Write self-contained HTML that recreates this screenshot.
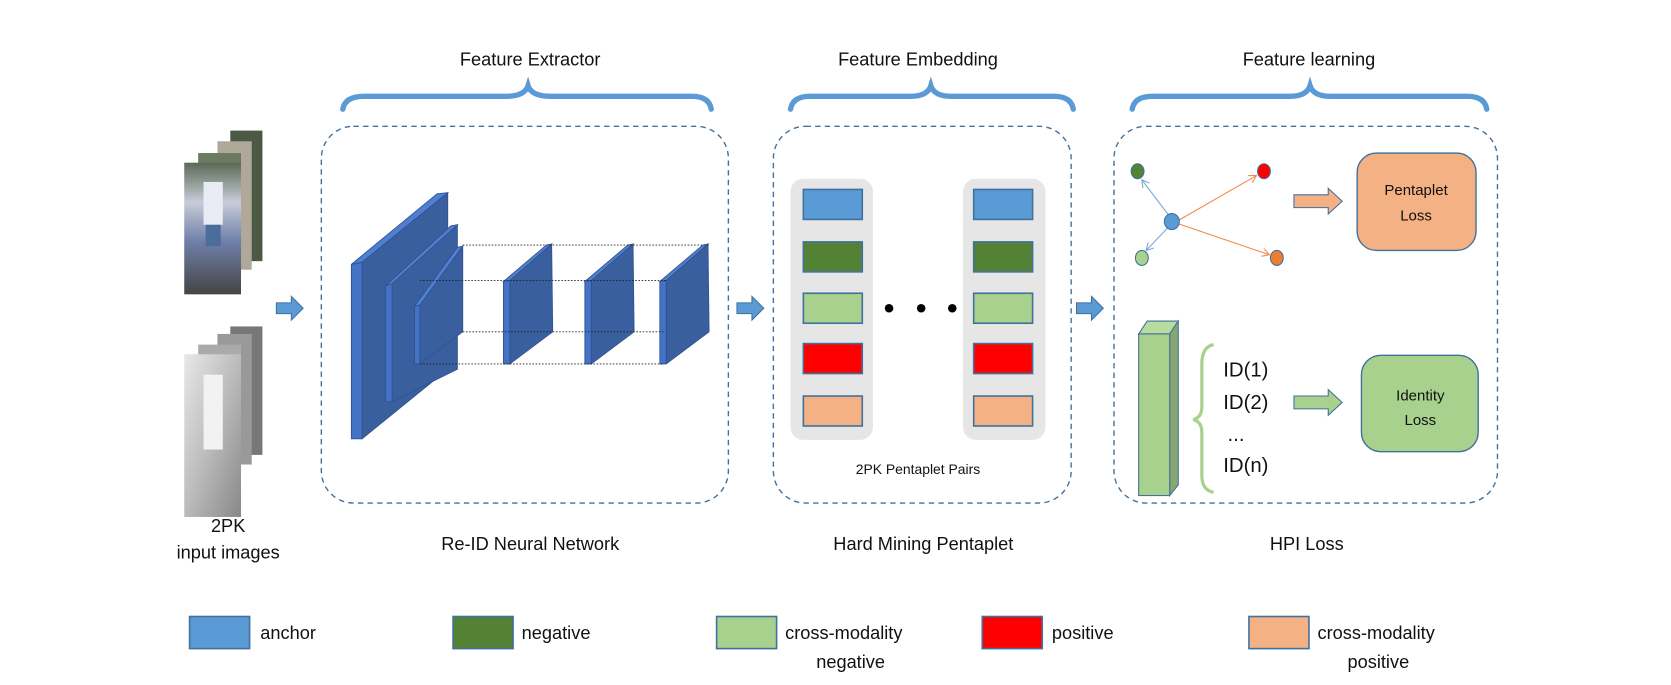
<!DOCTYPE html>
<html><head><meta charset="utf-8"><style>
html,body{margin:0;padding:0;background:#fff;}
svg{display:block;}
text{font-family:"Liberation Sans",sans-serif;fill:#111;}
</style></head><body>
<svg width="1671" height="685" viewBox="0 0 1560 640" preserveAspectRatio="none" xmlns="http://www.w3.org/2000/svg">
<defs>
<linearGradient id="col" x1="0" y1="0" x2="0" y2="1"><stop offset="0" stop-color="#5a6a55"/><stop offset="0.3" stop-color="#c8ccd8"/><stop offset="0.6" stop-color="#6f7fa8"/><stop offset="1" stop-color="#444"/></linearGradient>
<linearGradient id="gr" x1="0" y1="0" x2="1" y2="1"><stop offset="0" stop-color="#e8e8e8"/><stop offset="0.5" stop-color="#bbb"/><stop offset="1" stop-color="#888"/></linearGradient>
<marker id="ab" markerWidth="8" markerHeight="8" refX="7" refY="4" orient="auto" markerUnits="userSpaceOnUse"><path d="M0,0 L7,4 L0,8" fill="none" stroke="#7aa6d8" stroke-width="1"/></marker>
<marker id="ao" markerWidth="8" markerHeight="8" refX="7" refY="4" orient="auto" markerUnits="userSpaceOnUse"><path d="M0,0 L7,4 L0,8" fill="none" stroke="#f08a4b" stroke-width="1"/></marker>
</defs>
<g fill="none" stroke="#5b9bd5" stroke-width="5" stroke-linecap="round">
<path d="M320,102 Q322,90 340,90 L472,90 Q490,90 493,80 Q496,90 514,90 L646,90 Q662,90 664,102"/>
<path d="M738,102 Q740,90 756,90 L850,90 Q866,90 869,80 Q872,90 888,90 L984,90 Q1000,90 1002,102"/>
<path d="M1057,102 Q1059,90 1076,90 L1204,90 Q1220,90 1223,80 Q1226,90 1242,90 L1370,90 Q1386,90 1388,102"/>
</g>
<text x="495" y="61" font-size="17" text-anchor="middle">Feature Extractor</text>
<text x="857" y="61" font-size="17" text-anchor="middle">Feature Embedding</text>
<text x="1222" y="61" font-size="17" text-anchor="middle">Feature learning</text>
<g fill="none" stroke="#41719c" stroke-width="1.3" stroke-dasharray="5,4">
<rect x="300" y="118" width="380" height="352" rx="30"/>
<rect x="722" y="118" width="278" height="352" rx="30"/>
<rect x="1040" y="118" width="358" height="352" rx="30"/>
</g>
<rect x="215" y="122" width="30" height="122" fill="#4a5a44"/>
<rect x="203" y="132" width="32" height="120" fill="#b0a898"/>
<rect x="185" y="143" width="40" height="120" fill="#6c7a62"/>
<rect x="172" y="152" width="53" height="123" fill="url(#col)"/>
<rect x="190" y="170" width="18" height="40" fill="#e9ecf5"/>
<rect x="192" y="210" width="14" height="20" fill="#4c6c9c"/>
<rect x="215" y="305" width="30" height="120" fill="#777"/>
<rect x="203" y="312" width="32" height="122" fill="#999"/>
<rect x="185" y="322" width="40" height="125" fill="#aaa"/>
<rect x="172" y="331" width="53" height="152" fill="url(#gr)"/>
<rect x="190" y="350" width="18" height="70" fill="#f2f2f2"/>
<g fill="#5b9bd5" stroke="#41719c" stroke-width="1">
<path d="M258,283 L272,283 L272,277 L283,288 L272,299 L272,293 L258,293 Z"/>
<path d="M688,283 L702,283 L702,277 L713,288 L702,299 L702,293 L688,293 Z"/>
<path d="M1005,283 L1019,283 L1019,277 L1030,288 L1019,299 L1019,293 L1005,293 Z"/>
</g>
<g stroke="#2f528f" stroke-width="0.8">
<polygon points="338,245 418,180 418,345 338,410" fill="#3a5f9f"/>
<polygon points="328,247 338,245 338,410 328,410" fill="#4472c4"/>
<polygon points="328,247 408,181 418,180 338,245" fill="#4f7fd0"/>
<polygon points="366,265 427,210 427,345 366,375" fill="#3a5f9f"/>
<polygon points="360,267 366,265 366,375 360,375" fill="#4472c4"/>
<polygon points="360,267 421,211 427,210 366,265" fill="#4f7fd0"/>
<polygon points="392,285 432,230 432,310 392,340" fill="#3a5f9f"/>
<polygon points="387,286 392,285 392,340 387,340" fill="#4472c4"/>
<polygon points="387,286 427,231 432,230 392,285" fill="#4f7fd0"/>
<polygon points="476,262 515,228 516,310 476,340" fill="#3a5f9f"/>
<polygon points="470,263 476,262 476,340 470,340" fill="#4472c4"/>
<polygon points="470,263 510,229 515,228 476,262" fill="#4f7fd0"/>
<polygon points="552,262 591,228 592,310 552,340" fill="#3a5f9f"/>
<polygon points="546,263 552,262 552,340 546,340" fill="#4472c4"/>
<polygon points="546,263 586,229 591,228 552,262" fill="#4f7fd0"/>
<polygon points="622,262 661,228 662,310 622,340" fill="#3a5f9f"/>
<polygon points="616,263 622,262 622,340 616,340" fill="#4472c4"/>
<polygon points="616,263 656,229 661,228 622,262" fill="#4f7fd0"/>
</g>
<g stroke="#222" stroke-width="0.8" stroke-dasharray="1.5,1.5">
<line x1="432" y1="229" x2="662" y2="229"/>
<line x1="392" y1="262" x2="622" y2="262"/>
<line x1="432" y1="310" x2="620" y2="310"/>
<line x1="392" y1="340" x2="620" y2="340"/>
</g>
<rect x="738" y="167" width="77" height="244" rx="12" fill="#e6e6e6"/>
<rect x="899" y="167" width="77" height="244" rx="12" fill="#e6e6e6"/>
<g stroke="#41719c" stroke-width="1.5">
<rect x="750" y="177" width="55" height="28" fill="#5b9bd5"/>
<rect x="750" y="226" width="55" height="28" fill="#548235"/>
<rect x="750" y="274" width="55" height="28" fill="#a9d18e"/>
<rect x="750" y="321" width="55" height="28" fill="#ff0000"/>
<rect x="750" y="370" width="55" height="28" fill="#f4b183"/>
<rect x="909" y="177" width="55" height="28" fill="#5b9bd5"/>
<rect x="909" y="226" width="55" height="28" fill="#548235"/>
<rect x="909" y="274" width="55" height="28" fill="#a9d18e"/>
<rect x="909" y="321" width="55" height="28" fill="#ff0000"/>
<rect x="909" y="370" width="55" height="28" fill="#f4b183"/>
</g>
<circle cx="830" cy="288" r="4" fill="#000"/><circle cx="860" cy="288" r="4" fill="#000"/><circle cx="889" cy="288" r="4" fill="#000"/>
<text x="857" y="443" font-size="13" text-anchor="middle">2PK Pentaplet Pairs</text>
<g stroke-width="1" fill="none">
<line x1="1091" y1="201" x2="1066" y2="168" stroke="#7aa6d8" marker-end="url(#ab)"/>
<line x1="1090" y1="213" x2="1070" y2="234" stroke="#7aa6d8" marker-end="url(#ab)"/>
<line x1="1100" y1="206" x2="1173" y2="164" stroke="#f08a4b" marker-end="url(#ao)"/>
<line x1="1100" y1="209" x2="1185" y2="238" stroke="#f08a4b" marker-end="url(#ao)"/>
</g>
<g stroke="#41719c" stroke-width="1">
<ellipse cx="1062" cy="160" rx="6" ry="7" fill="#548235"/>
<ellipse cx="1180" cy="160" rx="6" ry="7" fill="#ff0000"/>
<ellipse cx="1094" cy="207" rx="7" ry="7.5" fill="#5b9bd5"/>
<ellipse cx="1066" cy="241" rx="6" ry="7" fill="#a9d18e"/>
<ellipse cx="1192" cy="241" rx="6" ry="7" fill="#ed7d31"/>
</g>
<path d="M1208,182 L1240,182 L1240,176 L1253,188 L1240,200 L1240,194 L1208,194 Z" fill="#f4b183" stroke="#41719c" stroke-width="1"/>
<path d="M1208,370 L1240,370 L1240,364 L1253,376 L1240,388 L1240,382 L1208,382 Z" fill="#a9d18e" stroke="#41719c" stroke-width="1"/>
<rect x="1267" y="143" width="111" height="91" rx="18" fill="#f4b183" stroke="#41719c" stroke-width="1.3"/>
<text x="1322" y="182" font-size="14" text-anchor="middle">Pentaplet</text>
<text x="1322" y="206" font-size="14" text-anchor="middle">Loss</text>
<rect x="1271" y="332" width="109" height="90" rx="18" fill="#a9d18e" stroke="#41719c" stroke-width="1.3"/>
<text x="1326" y="374" font-size="14" text-anchor="middle">Identity</text>
<text x="1326" y="397" font-size="14" text-anchor="middle">Loss</text>
<g stroke="#41719c" stroke-width="1">
<polygon points="1063,312 1071,300 1100,300 1092,312" fill="#b8dca0"/>
<polygon points="1092,312 1100,300 1100,453 1092,463" fill="#86a870"/>
<rect x="1063" y="312" width="29" height="151" fill="#a9d18e"/>
</g>
<path d="M1133,322 Q1122,324 1122,340 L1122,380 Q1122,390 1114,392 Q1122,394 1122,404 L1122,444 Q1122,458 1133,460" fill="none" stroke="#a9d18e" stroke-width="3"/>
<g font-size="19"><text x="1142" y="352">ID(1)</text><text x="1142" y="382">ID(2)</text><text x="1146" y="412">...</text><text x="1142" y="441">ID(n)</text></g>
<g font-size="17" text-anchor="middle">
<text x="213" y="497">2PK</text><text x="213" y="522">input images</text>
<text x="495" y="514">Re-ID Neural Network</text>
<text x="862" y="514">Hard Mining Pentaplet</text>
<text x="1220" y="514">HPI Loss</text>
</g>
<g stroke="#41719c" stroke-width="1.5">
<rect x="177" y="576" width="56" height="30" fill="#5b9bd5"/>
<rect x="423" y="576" width="56" height="30" fill="#548235"/>
<rect x="669" y="576" width="56" height="30" fill="#a9d18e"/>
<rect x="917" y="576" width="56" height="30" fill="#ff0000"/>
<rect x="1166" y="576" width="56" height="30" fill="#f4b183"/>
</g>
<g font-size="17">
<text x="243" y="597">anchor</text>
<text x="487" y="597">negative</text>
<text x="733" y="597">cross-modality</text>
<text x="762" y="624">negative</text>
<text x="982" y="597">positive</text>
<text x="1230" y="597">cross-modality</text>
<text x="1258" y="624">positive</text>
</g>
</svg>
</body></html>
